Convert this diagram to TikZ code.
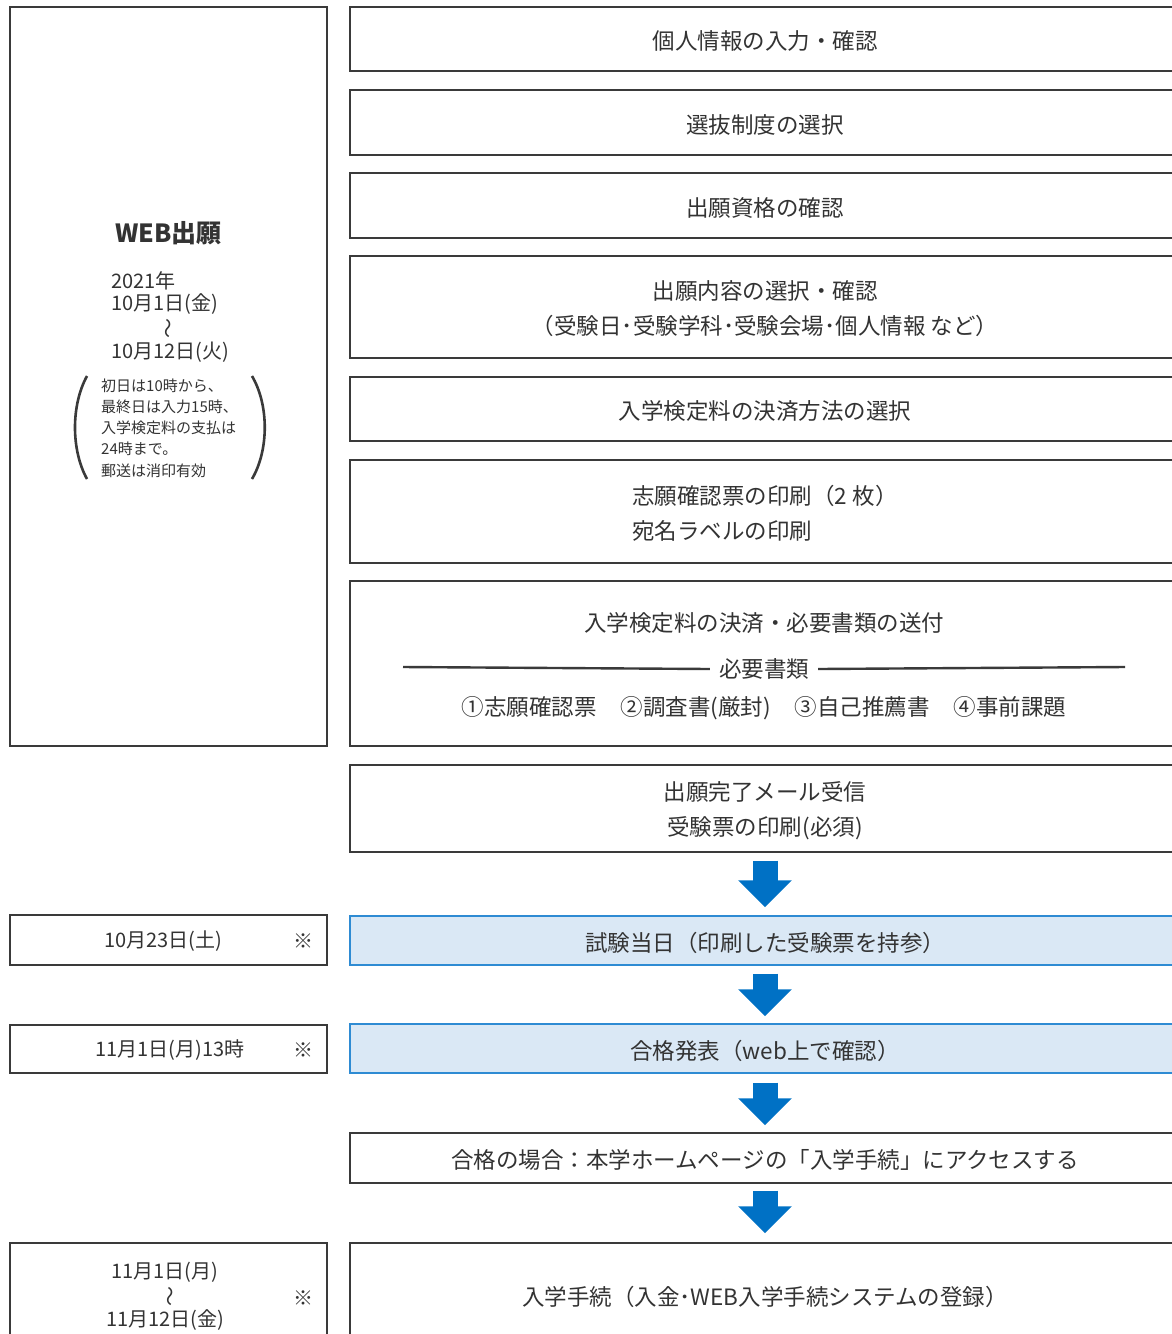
\documentclass[tikz,border=0pt]{standalone}
\usepackage{fontspec}
\setmainfont{Noto Sans CJK JP}
\usetikzlibrary{arrows.meta}
\definecolor{ln}{HTML}{3A3A3A}
\definecolor{tx}{HTML}{333333}
\definecolor{bfill}{HTML}{DAE8F5}
\definecolor{bline}{HTML}{2E8BD3}
\definecolor{arr}{HTML}{0071C5}
\begin{document}
\begin{tikzpicture}[x=1pt,y=-1pt,
 box/.style={draw=ln,line width=1.4pt,fill=white,minimum width=830pt,inner sep=0pt},
 bluebox/.style={box,draw=bline,fill=bfill},
 lbox/.style={draw=ln,line width=1.4pt,fill=white,minimum width=317pt,inner sep=0pt},
 txt/.style={text=tx,inner sep=0pt,align=center,yshift=-2pt,font=\fontsize{22.5pt}{35pt}\selectfont},
 ltxt/.style={text=tx,inner sep=0pt,yshift=-1.5pt,font=\fontsize{20pt}{24pt}\selectfont},
 refmark/.style={text=tx,inner sep=0pt,yshift=-1.5pt,font=\fontsize{20pt}{20pt}\selectfont},
 stxt/.style={text=tx,inner sep=0pt,yshift=-1.5pt,font=\fontsize{15pt}{21.25pt}\selectfont,align=left},
 bigarrow/.style={draw=arr,line width=25pt,-{Triangle[width=52pt,length=27pt]}},
 rulestyle/.style={draw=ln,line width=2.4pt},
]
\useasboundingbox (0,0) rectangle (1172,1334);
\clip (0,0) rectangle (1172,1334);

% left column
\node[lbox,minimum height=739pt] (L) at (168.5,376.5) {};
\node[text=tx,inner sep=0pt,yshift=-1.5pt,font=\fontsize{25pt}{28pt}\selectfont\bfseries] (web) at (168.5,232) {WEB出願};
\node[ltxt,anchor=west] (d1) at (111,279) {2021年};
\node[ltxt,anchor=west] (d2) at (111,303) {10月1日(金)};
\node[ltxt,rotate=-90] (dt) at (166,327) {〜};
\node[ltxt,anchor=west] (d3) at (111,351) {10月12日(火)};
\node[stxt,anchor=west] (note) at (101,426.5) {初日は10時から、\\最終日は入力15時、\\入学検定料の支払は\\24時まで。\\郵送は消印有効};
\draw[draw=ln,line width=2.6pt] (87,376) .. controls (71,405) and (71,450) .. (87,479);
\draw[draw=ln,line width=2.6pt] (252,376) .. controls (269,405) and (269,450) .. (252,479);

\node[lbox,minimum height=50pt] (ld1) at (168.5,940) {};
\node[ltxt] (ld1t) at (163,940) {10月23日(土)};
\node[refmark] (ld1m) at (303,940) {※};

\node[lbox,minimum height=48pt] (ld2) at (168.5,1049) {};
\node[ltxt] (ld2t) at (170,1049) {11月1日(月)13時};
\node[refmark] (ld2m) at (303,1049) {※};

\node[lbox,minimum height=104pt] (ld3) at (168.5,1295) {};
\node[ltxt] (ld3a) at (165,1271) {11月1日(月)};
\node[ltxt,rotate=-90] (ld3b) at (168,1295) {〜};
\node[ltxt] (ld3c) at (165,1319) {11月12日(金)};
\node[refmark] (ld3m) at (303,1297) {※};

% right column
\node[box,minimum height=64pt,label={[txt]center:個人情報の入力・確認}] (b1) at (765,39) {};
\node[box,minimum height=65pt,label={[txt]center:選抜制度の選択}] (b2) at (765,122.5) {};
\node[box,minimum height=65pt,label={[txt]center:出願資格の確認}] (b3) at (765,205.5) {};
\node[box,minimum height=102pt,label={[txt]center:{出願内容の選択・確認\\（受験日･受験学科･受験会場･個人情報 など）}}] (b4) at (765,307) {};
\node[box,minimum height=64pt,label={[txt]center:入学検定料の決済方法の選択}] (b5) at (765,409) {};
\node[box,minimum height=103pt,label={[txt,align=left]center:{志願確認票の印刷（2 枚）\\宛名ラベルの印刷}}] (b6) at (765,511.5) {};
\node[box,minimum height=165pt] (b7) at (765,663.5) {};
\node[txt] (b7a) at (764,621) {入学検定料の決済・必要書類の送付};
\node[txt] (b7b) at (764,667) {必要書類};
\coordinate (b7l) at (403,667);
\coordinate (b7r) at (1125,667);
\draw[rulestyle] ([xshift=-9pt]b7b.west) -- (b7l);
\draw[rulestyle] ([xshift=9pt]b7b.east) -- (b7r);
\node[txt] (b7c) at (764,706) {①志願確認票\hspace{24pt}②調査書(厳封)\hspace{24pt}③自己推薦書\hspace{24pt}④事前課題};
\node[box,minimum height=87pt,label={[txt]center:{出願完了メール受信\\受験票の印刷(必須)}}] (b8) at (765,808.5) {};
\node[bluebox,minimum height=49pt,label={[txt]center:試験当日（印刷した受験票を持参）}] (t1) at (765,940.5) {};
\node[bluebox,minimum height=49pt,label={[txt]center:合格発表（web上で確認）}] (t2) at (765,1048.5) {};
\node[box,minimum height=50pt,label={[txt]center:合格の場合：本学ホームページの「入学手続」にアクセスする}] (b9) at (765,1158) {};
\node[box,minimum height=104pt,label={[txt]center:入学手続（入金･WEB入学手続システムの登録）}] (b10) at (765,1295) {};

% arrows
\draw[bigarrow] ([yshift=-8pt]b8.south) -- ([yshift=8pt]t1.north);
\draw[bigarrow] ([yshift=-8pt]t1.south) -- ([yshift=7pt]t2.north);
\draw[bigarrow] ([yshift=-9pt]t2.south) -- ([yshift=7pt]b9.north);
\draw[bigarrow] ([yshift=-7pt]b9.south) -- ([yshift=9pt]b10.north);
\end{tikzpicture}
\end{document}
